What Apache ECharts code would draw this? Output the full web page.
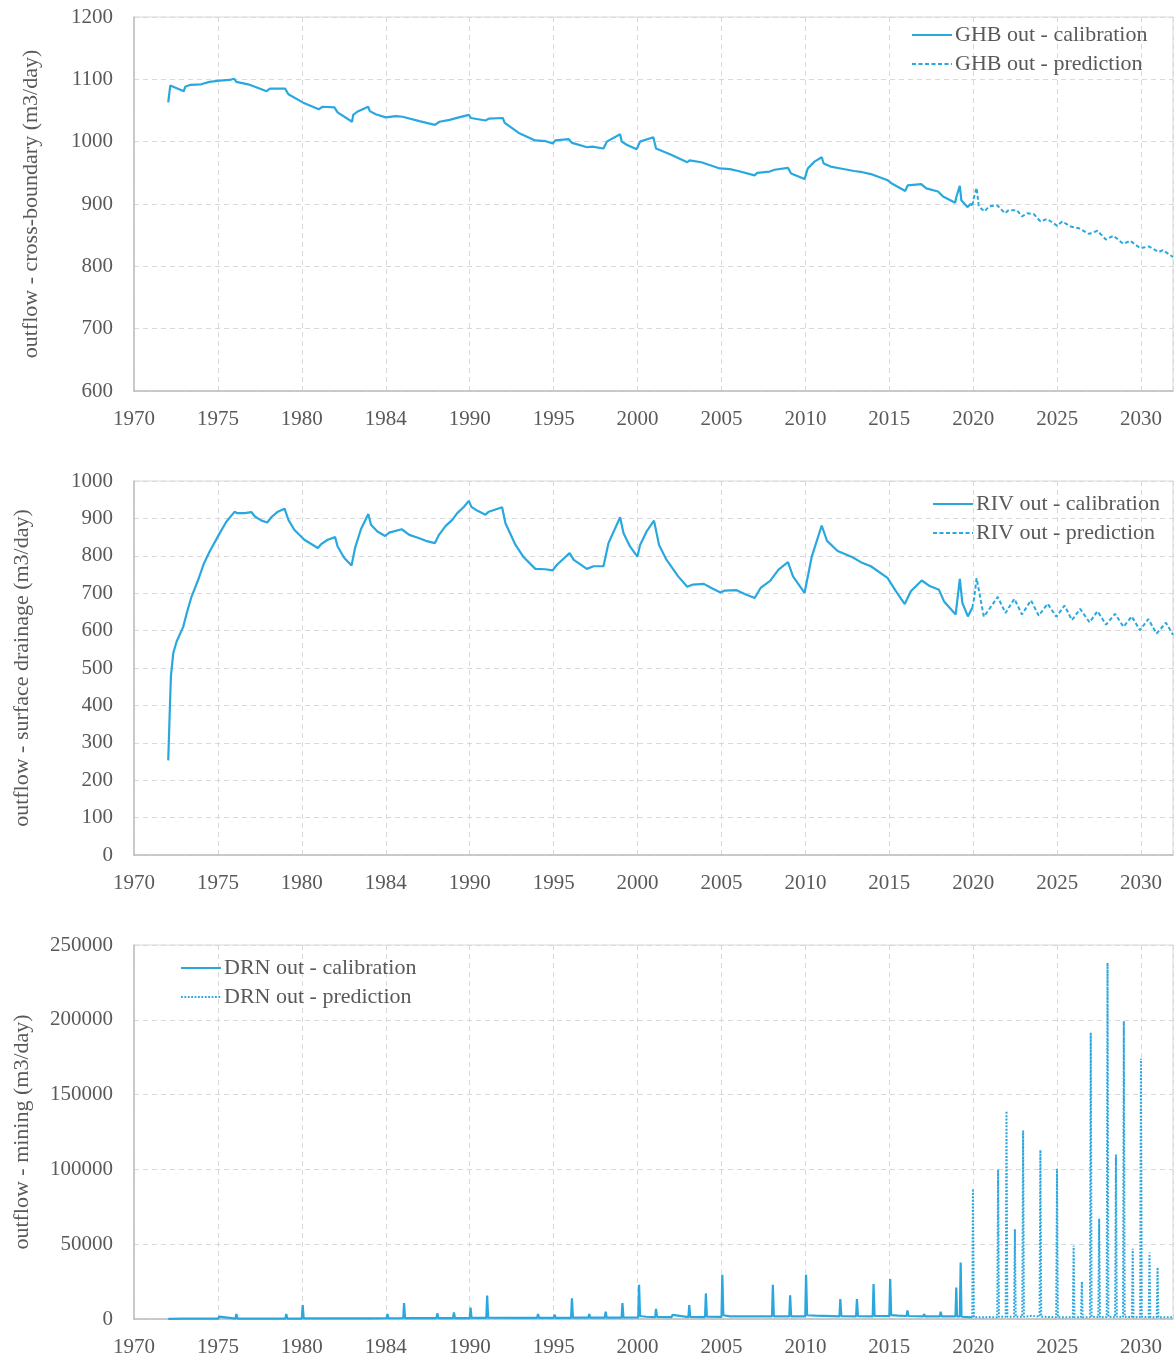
<!DOCTYPE html>
<html>
<head>
<meta charset="utf-8">
<title>Outflow components</title>
<script src="https://cdn.jsdelivr.net/npm/echarts@6/dist/echarts.min.js"></script>
<style>
  html, body { margin: 0; padding: 0; background: #ffffff; }
  #chart { width: 1176px; height: 1364px; }
</style>
</head>
<body>
<div id="chart"></div>
<script>
// ---- x axis (decimal years) ----
const xTickLabels = ['1970', '1975', '1980', '1984', '1990', '1995', '2000', '2005', '2010', '2015', '2020', '2025', '2030'];

// ---- GHB out (cross-boundary) ----
const ghbCalYears = [
  1972.04, 1972.16, 1972.97, 1973.05, 1973.33, 1974.0, 1974.5, 1975.1, 1975.7, 1975.96,
  1976.1, 1976.8, 1977.4, 1977.9, 1978.1, 1979.0, 1979.2, 1980.05, 1981.0, 1981.24,
  1981.94, 1982.13, 1982.99, 1983.06, 1983.3, 1983.95, 1984.05, 1984.4, 1985.0, 1985.6,
  1986.0, 1987.0, 1987.93, 1988.2, 1988.8, 1989.36, 1989.95, 1990.07, 1990.94, 1991.14,
  1991.97, 1992.09, 1992.92, 1993.9, 1994.5, 1994.94, 1995.1, 1995.9, 1996.1, 1997.0,
  1997.3, 1997.97, 1998.17, 1998.96, 1999.06, 1999.35, 1999.95, 2000.15, 2000.94, 2001.1,
  2002.0, 2002.96, 2003.1, 2003.8, 2004.9, 2005.5, 2006.0, 2006.97, 2007.13, 2007.87,
  2008.16, 2008.96, 2009.15, 2009.95, 2010.14, 2010.54, 2010.97, 2011.09, 2011.5, 2012.1,
  2012.9, 2013.4, 2013.9, 2014.9, 2015.2, 2015.95, 2016.1, 2016.9, 2017.2, 2017.9,
  2018.2, 2018.92, 2019.0, 2019.2, 2019.29, 2019.65, 2019.84, 2019.95
];
const ghbCalValues = [
  1063, 1090, 1081, 1088, 1091, 1092, 1096, 1098, 1099, 1101,
  1096, 1092, 1086, 1081, 1085, 1085, 1076, 1063, 1052, 1056,
  1055, 1047, 1032, 1043, 1048, 1056, 1049, 1044, 1039, 1041,
  1040, 1033, 1027, 1032, 1035, 1039, 1043, 1038, 1034, 1037,
  1038, 1030, 1014, 1002, 1001, 997, 1002, 1004, 998, 991,
  992, 989, 1000, 1012, 1000, 995, 988, 1000, 1007, 989,
  979, 967, 970, 967, 957, 956, 953, 946, 950, 952,
  955, 958, 949, 940, 957, 968, 975, 965, 960, 957,
  953, 951, 948, 938, 932, 921, 930, 932, 925, 920,
  912, 902, 912, 929, 906, 895, 900, 898
];
const ghbPredYears = [
  2019.95, 2020.05, 2020.2, 2020.33, 2020.67, 2020.93, 2021.42, 2021.9, 2022.1, 2022.6,
  2022.9, 2023.2, 2023.6, 2024.0, 2024.4, 2025.0, 2025.3, 2025.8, 2026.3, 2026.9,
  2027.4, 2027.9, 2028.35, 2028.95, 2029.35, 2029.95, 2030.45, 2031.05, 2031.3, 2031.9
];
const ghbPredValues = [
  898, 912, 926, 896, 888, 896, 898, 885, 890, 890,
  880, 885, 884, 872, 876, 865, 872, 864, 861, 852,
  857, 843, 849, 836, 841, 829, 832, 823, 826, 815
];

// ---- RIV out (surface drainage) ----
const rivCalYears = [
  1972.04, 1972.14, 1972.2, 1972.34, 1972.54, 1972.93, 1973.17, 1973.43, 1973.86, 1974.16,
  1974.5, 1975.1, 1975.5, 1976.0, 1976.13, 1976.6, 1976.99, 1977.2, 1977.6, 1977.94,
  1978.18, 1978.57, 1978.97, 1979.2, 1979.56, 1980.15, 1980.95, 1981.15, 1981.54, 1981.98,
  1982.13, 1982.53, 1982.96, 1983.17, 1983.52, 1983.96, 1984.12, 1984.5, 1984.96, 1985.2,
  1985.95, 1986.4, 1987.0, 1987.38, 1987.93, 1988.17, 1988.57, 1988.96, 1989.26, 1989.66,
  1989.95, 1990.1, 1990.44, 1990.94, 1991.14, 1991.93, 1992.13, 1992.73, 1993.22, 1993.91,
  1994.5, 1994.94, 1995.2, 1995.95, 1996.2, 1996.98, 1997.38, 1997.97, 1998.27, 1998.96,
  1999.16, 1999.55, 1999.99, 2000.15, 2000.54, 2000.98, 2001.28, 2001.73, 2002.42, 2002.96,
  2003.3, 2003.95, 2004.4, 2004.94, 2005.2, 2005.9, 2006.38, 2006.98, 2007.33, 2007.9,
  2008.4, 2008.96, 2009.26, 2009.95, 2010.38, 2010.97, 2011.29, 2011.92, 2012.81, 2013.3,
  2013.9, 2014.89, 2015.4, 2015.92, 2016.28, 2016.93, 2017.37, 2017.96, 2018.26, 2018.95,
  2019.2, 2019.35, 2019.68, 2019.94
];
const rivCalValues = [
  253, 398, 478, 540, 571, 610, 651, 691, 740, 779,
  811, 860, 891, 918, 914, 914, 917, 905, 894, 889,
  903, 918, 926, 896, 869, 843, 821, 831, 843, 850,
  825, 794, 774, 821, 871, 912, 883, 865, 853, 862,
  871, 856, 847, 840, 834, 856, 880, 896, 914, 931,
  947, 931, 921, 910, 918, 930, 887, 829, 796, 765,
  764, 761, 776, 807, 789, 765, 772, 772, 834, 903,
  861, 825, 798, 829, 865, 894, 829, 789, 745, 717,
  723, 725, 714, 702, 707, 708, 698, 687, 714, 733,
  763, 783, 745, 701, 798, 881, 840, 813, 796, 783,
  772, 741, 705, 671, 705, 734, 720, 709, 678, 643,
  738, 674, 638, 661
];
const rivPredYears = [
  2019.94, 2020.04, 2020.2, 2020.63, 2021.46, 2021.92, 2022.45, 2022.9, 2023.44, 2023.9,
  2024.43, 2024.95, 2025.44, 2025.88, 2026.37, 2026.93, 2027.4, 2027.91, 2028.45, 2028.95,
  2029.44, 2029.93, 2030.43, 2030.92, 2031.48, 2031.9
];
const rivPredValues = [
  661, 683, 740, 637, 690, 647, 685, 643, 681, 640,
  672, 637, 667, 628, 658, 622, 652, 616, 645, 610,
  638, 601, 631, 592, 621, 589
];

// ---- DRN out (mining) ----
const drnCalYears = [
  1972.04,
  1973.04, 1973.09, 1973.15, 1974.03, 1974.08, 1974.14, 1975.02, 1975.07, 1975.13,
  1976.05, 1976.1, 1976.16, 1977.03, 1977.08, 1977.14, 1978.02, 1978.07, 1978.13,
  1979.02, 1979.07, 1979.13, 1980.0, 1980.05, 1980.11, 1980.99, 1981.04, 1981.1,
  1984.0, 1984.05, 1984.11, 1985.05, 1985.1, 1985.16, 1986.04, 1986.09, 1986.15,
  1987.03, 1987.08, 1987.14, 1988.02, 1988.07, 1988.13, 1989.01, 1989.06, 1989.12,
  1990.0, 1990.05, 1990.11, 1990.99, 1991.04, 1991.1, 1993.07, 1993.12, 1993.18,
  1994.02, 1994.07, 1994.13, 1995.01, 1995.06, 1995.12, 1996.04, 1996.09, 1996.15,
  1997.07, 1997.12, 1997.18, 1998.05, 1998.1, 1998.16, 1999.05, 1999.1, 1999.16,
  2000.04, 2000.09, 2000.15, 2000.5, 2001.05, 2001.1, 2001.16, 2002.03, 2002.08, 2002.14,
  2003.03, 2003.08, 2003.14, 2004.02, 2004.07, 2004.13, 2005.0, 2005.05, 2005.11, 2005.5,
  2006.04, 2006.09, 2006.15, 2007.02, 2007.07, 2007.13, 2008.01, 2008.06, 2008.12,
  2009.04, 2009.09, 2009.15, 2009.99, 2010.04, 2010.1, 2010.6, 2012.03, 2012.08, 2012.14,
  2013.02, 2013.07, 2013.13, 2014.01, 2014.06, 2014.12, 2015.0, 2015.05, 2015.11, 2015.5,
  2016.03, 2016.08, 2016.14, 2017.02, 2017.07, 2017.13, 2018.01, 2018.06, 2018.12,
  2018.94, 2018.99, 2019.03, 2019.2, 2019.25, 2019.3, 2019.94
];
const drnCalValues = [
  100,
  200, 1100, 250, 250, 800, 250, 250, 1600, 300,
  300, 3300, 300, 300, 1100, 300, 300, 600, 300,
  300, 3300, 300, 300, 9300, 400, 400, 1100, 400,
  400, 900, 500, 500, 3300, 500, 500, 10700, 600,
  600, 900, 600, 600, 3800, 600, 600, 4400, 600,
  600, 7600, 700, 700, 15600, 900, 800, 1100, 800,
  800, 3300, 800, 800, 2900, 800, 800, 13800, 900,
  900, 3300, 900, 900, 4900, 900, 900, 10700, 1000,
  1000, 22900, 2000, 1500, 1300, 6700, 1400, 1300, 2700, 1400,
  1300, 9300, 1400, 1300, 17100, 1600, 1400, 29600, 2500, 1800,
  1700, 2300, 1700, 1700, 2000, 1700, 1700, 22900, 1800,
  1700, 15800, 1800, 1700, 29600, 2500, 2200, 1800, 13300, 1900,
  1800, 13300, 1900, 1800, 23300, 2000, 1900, 26700, 2600, 2300,
  2000, 5800, 2000, 1800, 3300, 1800, 1800, 4900, 1800,
  1800, 21100, 1800, 1800, 37800, 1500, 1100
];
const drnPredYears = [
  2019.94, 2019.98, 2020.04, 2020.5, 2021.0, 2021.43, 2021.48, 2021.53, 2021.93, 2021.98,
  2022.03, 2022.43, 2022.48, 2022.53, 2022.92, 2022.97, 2023.02, 2023.5, 2023.95, 2024.0,
  2024.05, 2024.94, 2024.99, 2025.04, 2025.93, 2025.98, 2026.03, 2026.42, 2026.47, 2026.52,
  2026.95, 2027.0, 2027.05, 2027.45, 2027.5, 2027.55, 2027.95, 2028.0, 2028.05, 2028.45,
  2028.5, 2028.55, 2028.92, 2028.97, 2029.02, 2029.45, 2029.5, 2029.55, 2029.94, 2029.99,
  2030.04, 2030.45, 2030.5, 2030.55, 2030.93, 2030.98, 2031.03, 2031.9
];
const drnPredValues = [
  1100, 87000, 1100, 1100, 1300, 1100, 100000, 1500, 1500, 139000,
  1500, 1500, 60000, 1500, 1500, 126000, 1500, 2200, 1500, 113000,
  1500, 1200, 100500, 1200, 1200, 49000, 1200, 1200, 25000, 1200,
  1200, 191500, 1500, 1200, 67000, 1200, 1300, 238000, 1500, 1200,
  110000, 1500, 1300, 199000, 1500, 1200, 47000, 1200, 1300, 174000,
  1500, 1200, 44500, 1200, 1200, 34500, 1200, 1100
];

// ---- styling ----
const BLUE = '#29a8e0';
const TEXT = '#595959';
const FONT = 'Liberation Serif';
const pairs = (xs, ys) => xs.map((x, i) => [x, ys[i]]);

const xLabel = v => {
  const i = Math.round((v - 1970) / 5);
  return Math.abs(v - (1970 + 5 * i)) < 1e-6 && xTickLabels[i] ? xTickLabels[i] : '';
};

const gridTops = [17, 481, 945];
const grids = gridTops.map(top => ({
  left: 134, right: 0, top: top, height: 374,
  show: true, borderColor: '#d9d9d9', borderWidth: 1, backgroundColor: 'transparent'
}));

const xAxes = [0, 1, 2].map(g => ({
  type: 'value', gridIndex: g, min: 1970, max: 2031.9, interval: 5,
  axisLine: { show: true, lineStyle: { color: '#bfbfbf', width: 1.5 } },
  axisTick: { show: false },
  axisLabel: { formatter: xLabel, color: TEXT, fontSize: 21, fontFamily: FONT, margin: 18 },
  splitLine: { show: true, lineStyle: { type: [5, 4], color: '#d9d9d9', width: 1 } }
}));

const yBase = {
  type: 'value',
  axisLine: { show: true, lineStyle: { color: '#bfbfbf', width: 1.5 } },
  axisTick: { show: false },
  axisLabel: { color: TEXT, fontSize: 21, fontFamily: FONT, margin: 21, formatter: v => String(v) },
  splitLine: { show: true, lineStyle: { type: [5, 4], color: '#d9d9d9', width: 1 } },
  nameLocation: 'middle',
  nameTextStyle: { color: TEXT, fontSize: 22, fontFamily: FONT }
};
const yAxes = [
  Object.assign({}, yBase, { gridIndex: 0, min: 600, max: 1200, interval: 100,
    name: 'outflow - cross-boundary (m3/day)', nameGap: 92 }),
  Object.assign({}, yBase, { gridIndex: 1, min: 0, max: 1000, interval: 100,
    name: 'outflow - surface drainage (m3/day)', nameGap: 101 }),
  Object.assign({}, yBase, { gridIndex: 2, min: 0, max: 250000, interval: 50000,
    name: 'outflow - mining (m3/day)', nameGap: 101 })
];

const lineSeries = (name, g, xs, ys, type, width) => ({
  name: name, type: 'line', xAxisIndex: g, yAxisIndex: g,
  data: pairs(xs, ys), symbol: 'none', animation: false,
  lineStyle: { color: BLUE, width: width, type: type },
  itemStyle: { color: BLUE }
});

const series = [
  lineSeries('GHB out - calibration', 0, ghbCalYears, ghbCalValues, 'solid', 2.2),
  lineSeries('GHB out - prediction', 0, ghbPredYears, ghbPredValues, [4, 2.5], 2),
  lineSeries('RIV out - calibration', 1, rivCalYears, rivCalValues, 'solid', 2.2),
  lineSeries('RIV out - prediction', 1, rivPredYears, rivPredValues, [4, 2.5], 2),
  lineSeries('DRN out - calibration', 2, drnCalYears, drnCalValues, 'solid', 2.2),
  lineSeries('DRN out - prediction', 2, drnPredYears, drnPredValues, [1.8, 1.6], 2)
];

const legendBase = {
  orient: 'vertical', itemWidth: 40, itemHeight: 14, itemGap: 7, padding: 0,
  itemStyle: { opacity: 0 },
  textStyle: { color: TEXT, fontSize: 22, fontFamily: FONT, lineHeight: 21, padding: [0, 0, 0, -2] }
};
const legends = [
  Object.assign({}, legendBase, { left: 911, top: 24, data: ['GHB out - calibration', 'GHB out - prediction'] }),
  Object.assign({}, legendBase, { left: 932, top: 493, data: ['RIV out - calibration', 'RIV out - prediction'] }),
  Object.assign({}, legendBase, { left: 180, top: 957, data: ['DRN out - calibration', 'DRN out - prediction'] })
];

const chart = echarts.init(document.getElementById('chart'), null, { renderer: 'canvas' });
chart.setOption({
  backgroundColor: '#ffffff',
  animation: false,
  grid: grids,
  xAxis: xAxes,
  yAxis: yAxes,
  legend: legends,
  series: series
});
</script>
</body>
</html>
